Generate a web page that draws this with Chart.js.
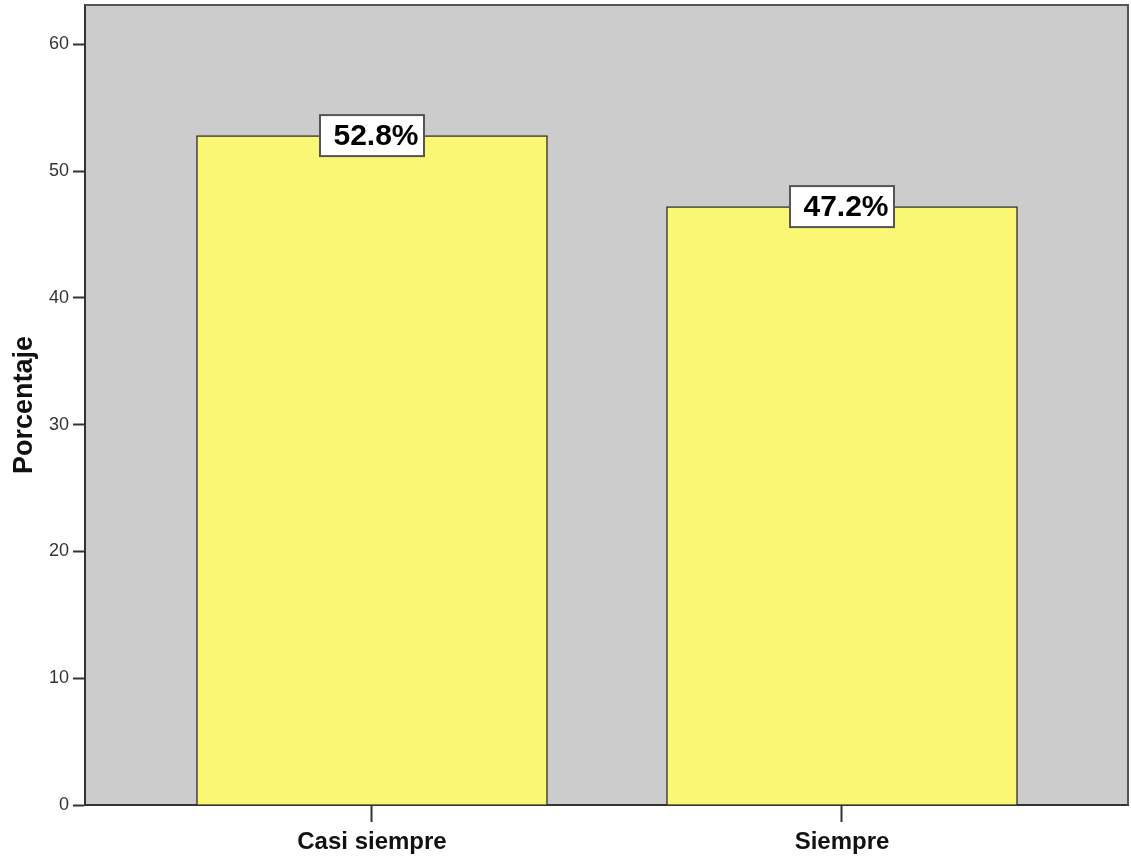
<!DOCTYPE html>
<html>
<head>
<meta charset="utf-8">
<script src="https://cdn.jsdelivr.net/npm/chart.js@4/dist/chart.umd.min.js"></script>
<style>
  body { margin: 0; background: #fff; }
  #wrap { width: 1131px; height: 858px; }
</style>
</head>
<body>
<div id="wrap"><canvas id="grafico"></canvas></div>
<script>
// datos
const categorias = ['Casi siempre', 'Siempre'];
const porcentajes = [52.8, 47.2];
const yTicks = [0, 10, 20, 30, 40, 50, 60];

const FUENTE = "'Liberation Sans', Arial, sans-serif";

// fondo gris del area de grafico + borde superior/derecho
const fondoPlugin = {
    id: 'fondo',
    beforeDraw(chart) {
        const { ctx, chartArea: a } = chart;
        ctx.save();
        ctx.fillStyle = '#cccccc';
        ctx.fillRect(a.left, a.top, a.right - a.left, a.bottom - a.top);
        ctx.restore();
    },
    afterDraw(chart) {
        const { ctx, chartArea: a } = chart;
        ctx.save();
        ctx.strokeStyle = '#555';
        ctx.lineWidth = 2;
        ctx.beginPath();
        ctx.moveTo(a.left, a.top);
        ctx.lineTo(a.right, a.top);
        ctx.lineTo(a.right, a.bottom);
        ctx.stroke();
        ctx.restore();
    }
};

// etiquetas de valor en caja blanca
const etiquetasPlugin = {
    id: 'etiquetas',
    afterDatasetsDraw(chart) {
        const { ctx } = chart;
        const meta = chart.getDatasetMeta(0);
        ctx.save();
        meta.data.forEach((bar, i) => {
            const w = 104, h = 41;
            const x = bar.x - w / 2;
            const y = bar.y - h / 2;
            ctx.fillStyle = '#ffffff';
            ctx.fillRect(x, y, w, h);
            ctx.strokeStyle = '#555';
            ctx.lineWidth = 2;
            ctx.strokeRect(x, y, w, h);
            ctx.fillStyle = '#000';
            ctx.font = 'bold 30px ' + FUENTE;
            ctx.textAlign = 'center';
            ctx.textBaseline = 'middle';
            ctx.fillText(porcentajes[i].toFixed(1) + '%', bar.x + 4, bar.y + 1);
        });
        ctx.restore();
    }
};

const ctx = document.getElementById('grafico').getContext('2d');
new Chart(ctx, {
    type: 'bar',
    data: {
        datasets: [{
            label: 'Porcentaje',
            data: porcentajes.map((v, i) => ({ x: i, y: v })),
            backgroundColor: '#f9f774',
            borderColor: '#333',
            borderWidth: 1.5,
            barThickness: 351
        }]
    },
    options: {
        responsive: true,
        maintainAspectRatio: false,
        animation: false,
        layout: { padding: { top: 5, right: 3, left: 0, bottom: 0 } },
        plugins: {
            legend: { display: false },
            tooltip: { enabled: false }
        },
        scales: {
            x: {
                type: 'linear',
                offset: false,
                min: -0.6106,
                max: 1.6085,
                afterBuildTicks: (scale) => {
                    scale.ticks = categorias.map((c, i) => ({ value: i }));
                },
                afterFit: (scale) => {
                    scale.height = 53;
                    scale.paddingLeft = 0;
                    scale.paddingRight = 0;
                },
                ticks: {
                    callback: (v) => categorias[v],
                    font: { family: FUENTE, size: 24, weight: 'bold' },
                    color: '#111',
                    padding: 6,
                    maxRotation: 0
                },
                grid: {
                    offset: false,
                    drawOnChartArea: false,
                    drawTicks: true,
                    tickLength: 17,
                    tickColor: '#333',
                    tickWidth: 2
                },
                border: { display: true, color: '#333', width: 2 }
            },
            y: {
                min: 0,
                max: 63.1,
                afterBuildTicks: (scale) => {
                    scale.ticks = yTicks.map(v => ({ value: v }));
                },
                afterFit: (scale) => {
                    scale.width = 85;
                    scale.paddingTop = 0;
                    scale.paddingBottom = 0;
                },
                ticks: {
                    font: { family: FUENTE, size: 18 },
                    color: '#333',
                    padding: 4
                },
                grid: {
                    drawOnChartArea: false,
                    drawTicks: true,
                    tickLength: 12,
                    tickColor: '#333',
                    tickWidth: 2
                },
                border: { display: true, color: '#333', width: 2 },
                title: {
                    display: true,
                    text: 'Porcentaje',
                    font: { family: FUENTE, size: 27, weight: 'bold' },
                    color: '#111',
                    padding: { top: 8, bottom: 0 }
                }
            }
        }
    },
    plugins: [fondoPlugin, etiquetasPlugin]
});
</script>
</body>
</html>
